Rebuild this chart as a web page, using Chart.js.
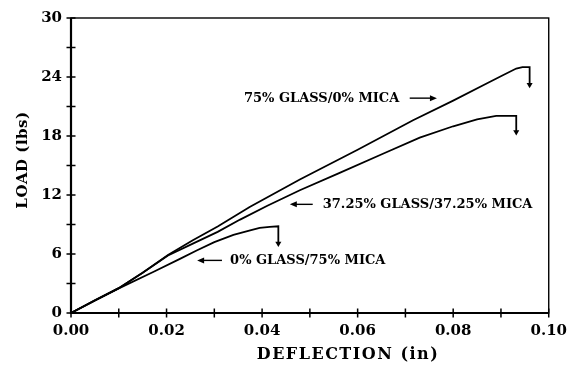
<!DOCTYPE html>
<html>
<head>
<meta charset="utf-8">
<script src="https://cdn.jsdelivr.net/npm/chart.js@4"></script>
<style>
  html, body { margin: 0; padding: 0; background: #fff; }
  canvas { display: block; }
</style>
</head>
<body>
<canvas id="chart" width="576" height="365"></canvas>
<script>
// load (lbs) against deflection (in)
const deflGlass75 = [0, 0.005, 0.0099, 0.015, 0.0203, 0.0255, 0.0307, 0.0374, 0.0479, 0.06, 0.0716, 0.08, 0.087, 0.0905, 0.0932, 0.0945, 0.096, 0.096]
const loadGlass75 = [0, 1.3, 2.5, 4.1, 5.9, 7.4, 8.8, 10.78, 13.57, 16.6, 19.6, 21.6, 23.34, 24.2, 24.86, 25.0, 25.0, 23.2]

const deflGlassMica = [0, 0.005, 0.0099, 0.015, 0.0203, 0.0255, 0.0307, 0.0354, 0.0411, 0.0479, 0.056, 0.0653, 0.073, 0.08, 0.085, 0.089, 0.0932, 0.0932]
const loadGlassMica = [0, 1.3, 2.5, 4.1, 5.85, 7.05, 8.25, 9.5, 10.9, 12.48, 14.2, 16.2, 17.84, 18.99, 19.7, 20.04, 20.04, 18.4]

const deflMica75 = [0, 0.005, 0.0099, 0.0172, 0.0228, 0.0263, 0.03, 0.034, 0.0375, 0.0395, 0.0416, 0.0434, 0.0434]
const loadMica75 = [0, 1.25, 2.48, 4.17, 5.5, 6.35, 7.2, 7.95, 8.4, 8.65, 8.75, 8.82, 7.06]

const xTickLabels = ['0.00', '0.02', '0.04', '0.06', '0.08', '0.10']
const yTickLabels = ['0', '6', '12', '18', '24', '30']

// callouts: text start and arrow ends in data units
const callouts = [
  { text: '75% GLASS/0% MICA', x: 0.0362, y: 21.85, from: 0.0709, to: 0.0766 },
  { text: '37.25% GLASS/37.25% MICA', x: 0.0527, y: 11.05, from: 0.0506, to: 0.0458 },
  { text: '0% GLASS/75% MICA', x: 0.0333, y: 5.35, from: 0.0316, to: 0.0264 }
]

const FONT = '"DejaVu Serif", "Liberation Serif", serif'

function pairs(xs, ys) {
  return xs.map((x, i) => ({ x: x, y: ys[i] }))
}

function trace(xs, ys) {
  const last = xs.length - 1
  return {
    data: pairs(xs, ys),
    borderColor: '#000',
    backgroundColor: '#000',
    borderWidth: 1.8,
    tension: 0,
    fill: false,
    pointStyle: 'triangle',
    pointRotation: 180,
    pointRadius: ctx => (ctx.dataIndex === last ? 3.5 : 0),
    pointBorderWidth: 0,
    pointBackgroundColor: '#000'
  }
}

const framePlugin = {
  id: 'frame',
  afterDraw(chart) {
    const { ctx, chartArea: a, scales: { x, y } } = chart
    ctx.save()
    ctx.strokeStyle = '#000'
    ctx.fillStyle = '#000'

    // thin top / right border, heavier axes
    ctx.lineWidth = 1.4
    ctx.strokeRect(a.left, a.top, a.right - a.left, a.bottom - a.top)
    ctx.lineWidth = 2.2
    ctx.beginPath()
    ctx.moveTo(a.left, a.top)
    ctx.lineTo(a.left, a.bottom)
    ctx.lineTo(a.right, a.bottom)
    ctx.stroke()

    // tick marks crossing the axes
    ctx.lineWidth = 1.5
    ctx.beginPath()
    x.ticks.forEach(t => {
      const px = x.getPixelForValue(t.value)
      ctx.moveTo(px, a.bottom - 4.5)
      ctx.lineTo(px, a.bottom + 4.5)
    })
    y.ticks.forEach(t => {
      const py = y.getPixelForValue(t.value)
      ctx.moveTo(a.left - 4.5, py)
      ctx.lineTo(a.left + 4.5, py)
    })
    ctx.stroke()

    // callouts with arrows
    ctx.font = 'bold 13px ' + FONT
    ctx.textBaseline = 'middle'
    ctx.textAlign = 'left'
    callouts.forEach(c => {
      const py = y.getPixelForValue(c.y)
      ctx.fillText(c.text, x.getPixelForValue(c.x), py)
      const x0 = x.getPixelForValue(c.from)
      const x1 = x.getPixelForValue(c.to)
      const dir = x1 > x0 ? 1 : -1
      ctx.lineWidth = 1.4
      ctx.beginPath()
      ctx.moveTo(x0, py)
      ctx.lineTo(x1 - dir * 5, py)
      ctx.stroke()
      ctx.beginPath()
      ctx.moveTo(x1, py)
      ctx.lineTo(x1 - dir * 7, py - 3)
      ctx.lineTo(x1 - dir * 7, py + 3)
      ctx.closePath()
      ctx.fill()
    })

    // axis titles
    ctx.font = 'bold 16px ' + FONT
    ctx.textAlign = 'center'
    ctx.letterSpacing = '1.5px'
    ctx.fillText('DEFLECTION (in)', 348, 355)
    ctx.letterSpacing = '0.5px'
    ctx.font = 'bold 15px ' + FONT
    ctx.translate(23, 160)
    ctx.rotate(-Math.PI / 2)
    ctx.fillText('LOAD (lbs)', 0, 0)
    ctx.restore()
  }
}

new Chart(document.getElementById('chart'), {
  type: 'line',
  data: {
    datasets: [
      trace(deflGlass75, loadGlass75),
      trace(deflGlassMica, loadGlassMica),
      trace(deflMica75, loadMica75)
    ]
  },
  plugins: [framePlugin],
  options: {
    responsive: false,
    animation: false,
    layout: { padding: { top: 17, right: 27, left: 0, bottom: 0 } },
    plugins: {
      legend: { display: false },
      tooltip: { enabled: false }
    },
    scales: {
      x: {
        type: 'linear',
        min: 0,
        max: 0.1,
        afterFit: s => { s.height = 52 },
        border: { display: false },
        grid: { display: false, drawTicks: false },
        ticks: {
          stepSize: 0.01,
          autoSkip: false,
          maxRotation: 0,
          padding: 9,
          color: '#000',
          font: { family: FONT, size: 15, weight: 'bold' },
          callback: v => {
            const i = Math.round(v * 100)
            return i % 2 === 0 ? xTickLabels[i / 2] : ''
          }
        }
      },
      y: {
        type: 'linear',
        min: 0,
        max: 30,
        afterFit: s => { s.width = 71 },
        border: { display: false },
        grid: { display: false, drawTicks: false },
        ticks: {
          stepSize: 3,
          autoSkip: false,
          padding: 9,
          color: '#000',
          font: { family: FONT, size: 15, weight: 'bold' },
          callback: v => (v % 6 === 0 ? yTickLabels[v / 6] : '')
        }
      }
    }
  }
})
</script>
</body>
</html>
